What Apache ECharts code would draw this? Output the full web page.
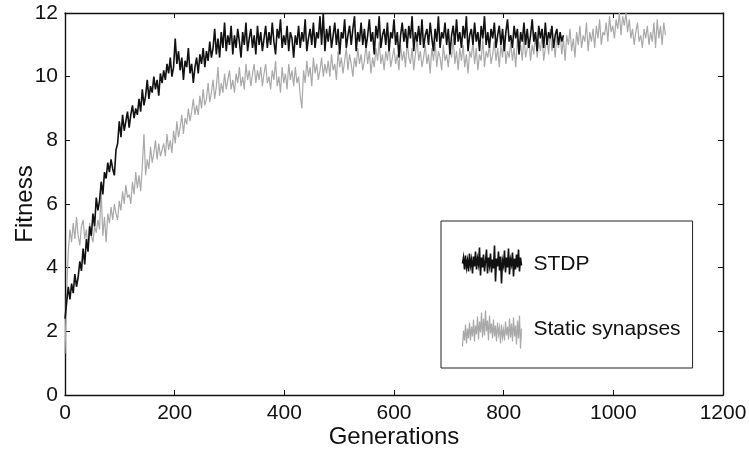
<!DOCTYPE html>
<html>
<head>
<meta charset="utf-8">
<script src="https://cdn.jsdelivr.net/npm/echarts@6/dist/echarts.min.js"></script>
<style>html,body{margin:0;padding:0;background:#fff;}#chart{width:749px;height:450px;}</style>
</head>
<body>
<div id="chart"></div>
<script>
// Generation step between samples
const GEN_STEP = 3;
const xTicks = [0, 200, 400, 600, 800, 1000, 1200];
const yTicks = [0, 2, 4, 6, 8, 10, 12];
const seriesNames = ['STDP', 'Static synapses'];

// STDP fitness, generations 0..909 (every 3)
const stdpFitness = [
  2.4,2.9,3.4,3.0,3.5,3.2,3.8,3.4,3.7,4.2,3.9,4.6,4.1,4.9,4.5,5.3,5.0,5.7,5.3,6.2,
  5.8,6.1,6.7,6.3,7.0,6.8,7.3,7.0,7.4,7.1,6.9,7.7,7.9,8.6,8.1,8.8,8.3,8.6,8.9,8.4,
  8.8,9.1,8.7,9.0,8.8,9.3,8.9,9.6,9.1,9.4,9.9,9.3,9.7,9.5,10.0,9.6,9.9,9.4,10.1,9.8,
  10.2,9.9,10.4,10.1,10.6,10.0,10.3,11.2,10.4,10.8,10.2,10.6,9.9,10.5,10.3,10.9,10.1,10.4,9.8,10.3,
  10.6,10.1,10.7,10.4,10.9,10.3,10.8,10.5,11.1,10.6,10.9,11.5,10.7,11.2,10.6,11.4,10.9,11.7,10.8,11.3,
  11.0,11.6,10.7,11.3,10.9,11.5,11.1,10.6,11.4,11.0,11.7,10.8,11.2,11.5,10.9,11.3,10.7,11.6,11.0,11.4,
  10.8,11.2,11.6,10.9,11.4,11.0,11.7,11.1,10.7,11.5,11.2,11.8,10.9,11.3,11.0,11.6,10.8,11.4,11.2,10.6,
  11.3,11.0,11.6,10.9,11.4,11.1,11.8,10.8,11.2,11.5,11.0,11.7,10.9,11.4,11.2,11.9,11.0,12.0,10.8,11.5,
  11.1,11.6,10.9,11.3,11.7,11.0,11.5,10.7,11.4,11.2,11.8,10.9,11.3,11.6,11.0,11.5,11.9,10.8,11.4,11.1,
  11.7,11.0,11.5,10.9,11.3,11.8,11.1,11.4,10.7,11.6,11.2,11.9,10.9,11.3,11.5,11.0,11.7,10.8,11.4,11.2,
  11.8,11.0,11.4,10.6,11.3,11.7,11.1,11.5,10.9,11.6,11.2,11.9,10.8,11.4,11.1,11.6,11.0,11.8,10.9,11.3,
  11.5,11.0,11.7,11.2,10.8,11.5,11.1,11.9,10.9,11.4,11.2,11.7,11.0,11.5,10.7,11.3,11.6,11.0,11.8,11.1,
  11.4,10.9,11.6,11.2,11.9,10.8,11.3,11.5,11.0,11.7,11.1,11.4,10.8,11.6,11.2,11.9,11.0,11.4,10.9,11.5,
  11.2,11.7,10.9,11.3,11.6,11.0,11.5,10.8,11.4,11.8,11.1,11.3,10.9,11.6,11.2,11.5,10.7,11.4,11.1,11.7,
  11.0,11.5,10.9,11.3,11.8,11.1,11.4,10.8,11.6,11.2,11.5,10.9,11.7,11.0,11.4,11.2,11.6,10.9,11.3,11.5,
  11.0,11.4,11.1,11.3
];

// Static synapses fitness, generations 0..1095 (every 3)
const staticFitness = [
  1.3,3.2,4.5,5.2,4.8,5.4,4.9,5.6,5.0,4.7,5.3,5.5,4.9,5.2,4.6,5.4,5.0,4.8,5.3,5.1,
  5.5,5.2,6.4,5.0,5.6,4.8,5.7,5.4,5.9,5.5,6.0,5.7,5.5,6.1,5.8,6.4,6.0,6.6,6.2,6.3,
  6.0,6.7,6.3,7.0,6.5,6.9,6.4,7.2,8.2,6.9,7.4,7.1,7.8,7.3,7.6,8.0,7.4,7.9,7.5,7.7,
  7.9,7.5,8.2,7.7,8.0,7.6,8.3,7.9,8.6,8.1,8.4,8.8,8.2,8.7,8.5,9.0,8.6,8.9,9.3,8.8,
  9.1,8.8,9.4,9.0,9.6,9.1,9.3,9.8,9.2,9.5,9.9,9.3,9.7,10.3,9.4,9.8,9.5,10.1,9.6,9.9,
  10.2,9.6,9.9,9.5,10.1,9.8,10.3,9.7,10.0,9.6,10.4,9.9,10.2,9.7,10.1,10.4,9.8,10.2,9.9,10.3,
  9.7,10.1,10.4,9.8,10.0,9.6,10.2,9.9,10.5,9.7,10.0,9.5,10.3,9.8,10.1,9.6,10.4,9.9,10.2,9.7,
  10.3,9.8,10.0,9.4,9.0,10.2,9.8,10.5,10.0,10.3,9.7,10.6,10.1,10.4,9.9,10.2,10.6,10.0,10.4,10.1,
  10.5,10.0,10.7,10.2,10.4,9.9,10.8,10.3,10.6,10.1,10.5,10.9,10.2,10.7,10.4,10.0,10.6,10.3,10.9,10.4,
  10.7,10.2,10.5,11.0,10.4,10.8,10.1,10.6,10.3,10.9,10.5,11.1,10.4,10.7,10.2,10.8,10.5,11.0,10.3,10.6,
  10.9,10.4,10.7,10.2,11.0,10.5,10.8,10.3,11.1,10.6,10.4,10.9,10.2,10.7,11.2,10.5,10.8,10.3,10.6,11.0,
  10.4,10.7,10.1,10.9,10.5,11.1,10.3,10.8,10.6,10.2,11.0,10.5,10.7,10.3,10.9,10.6,11.2,10.4,10.8,10.2,
  10.9,10.5,11.0,10.3,10.7,10.1,10.8,10.6,11.1,10.4,10.9,10.2,10.7,10.5,11.2,10.3,10.8,10.6,11.0,10.4,
  10.7,11.1,10.5,10.9,10.3,11.0,10.6,11.3,10.4,10.8,10.6,11.1,10.5,10.9,10.3,11.2,10.7,11.0,10.5,11.3,
  10.6,10.9,11.2,10.5,11.0,10.7,11.4,10.6,11.1,10.8,11.3,10.5,10.9,11.2,10.7,11.5,10.8,11.1,10.6,11.3,
  10.9,11.4,10.7,11.2,10.5,11.3,11.0,11.5,10.8,11.2,10.6,11.4,11.0,11.6,10.9,11.3,11.1,11.7,10.8,11.4,
  11.1,11.5,10.9,11.6,11.2,11.8,11.0,11.4,11.3,11.7,11.1,11.9,11.4,11.6,11.2,11.8,11.5,12.0,11.3,11.9,
  11.6,12.0,11.4,11.8,11.2,11.5,11.0,11.4,11.7,11.1,11.3,10.9,11.5,11.2,11.6,11.0,11.4,11.1,11.7,10.9,
  11.8,11.2,11.6,11.0,11.7,11.3
];

const toPairs = arr => arr.map((v, i) => [i * GEN_STEP, v]);

const FONT = '"Liberation Sans", Arial, Helvetica, sans-serif';
const stdpIcon = 'path://M0,18 L1,12 L2,24 L3,10 L4,22 L5,15 L6,26 L7,8 L8,20 L9,14 L10,28 L11,11 L12,21 L13,6 L14,24 L15,13 L16,19 L17,2 L18,30 L19,12 L20,22 L21,9 L22,26 L23,16 L24,4 L25,28 L26,12 L27,20 L28,8 L29,27 L30,14 L31,23 L32,0 L33,36 L34,13 L35,21 L36,6 L37,25 L38,11 L39,38 L40,15 L41,20 L42,5 L43,27 L44,12 L45,22 L46,3 L47,29 L48,14 L49,19 L50,7 L51,31 L52,13 L53,24 L54,9 L55,22 L56,4 L57,26 L58,12 L59,20';
const staticIcon = 'path://M0,36 L1,20 L2,30 L3,14 L4,33 L5,18 L6,28 L7,12 L8,30 L9,16 L10,26 L11,9 L12,31 L13,15 L14,24 L15,6 L16,29 L17,11 L18,22 L19,2 L20,27 L21,8 L22,25 L23,0 L24,21 L25,10 L26,30 L27,5 L28,23 L29,13 L30,28 L31,9 L32,26 L33,15 L34,31 L35,12 L36,24 L37,17 L38,33 L39,14 L40,27 L41,19 L42,30 L43,11 L44,25 L45,16 L46,29 L47,8 L48,27 L49,13 L50,31 L51,7 L52,26 L53,15 L54,34 L55,10 L56,28 L57,5 L58,38 L59,18';

const axisLineStyle = { color: '#111', width: 1.4 };
const tickStyle = { show: true, inside: true, length: 5, lineStyle: { color: '#111', width: 1 } };
const labelStyle = { color: '#111', fontSize: 21, fontFamily: FONT, formatter: v => String(v) };

const chart = echarts.init(document.getElementById('chart'), null, { renderer: 'canvas' });
chart.setOption({
  animation: false,
  backgroundColor: '#fff',
  grid: { left: 65, right: 26, top: 13, bottom: 55, containLabel: false, outerBoundsMode: 'none' },
  legend: {
    orient: 'vertical',
    left: 441, top: 221,
    padding: [22, 12, 17, 19],
    itemGap: 22,
    itemWidth: 59, itemHeight: 38,
    borderColor: '#222', borderWidth: 1,
    backgroundColor: '#fff',
    selectedMode: false,
    textStyle: { color: '#111', fontSize: 21, fontFamily: FONT, padding: [0, 0, 0, 7] },
    data: [
      { name: seriesNames[0], icon: stdpIcon, itemStyle: { color: 'none', borderColor: '#111', borderWidth: 1.6 } },
      { name: seriesNames[1], icon: staticIcon, itemStyle: { color: 'none', borderColor: '#a9a9a9', borderWidth: 1.2 } }
    ]
  },
  xAxis: [
    {
      type: 'value', min: xTicks[0], max: xTicks[xTicks.length - 1], interval: 200, position: 'bottom',
      axisLine: { show: true, lineStyle: axisLineStyle, onZero: false },
      axisTick: tickStyle,
      axisLabel: Object.assign({ margin: 8 }, labelStyle),
      splitLine: { show: false },
      name: 'Generations', nameLocation: 'middle', nameGap: 30, nameMoveOverlap: false,
      nameTextStyle: { color: '#111', fontSize: 24, fontFamily: FONT }
    },
    {
      type: 'value', min: xTicks[0], max: xTicks[xTicks.length - 1], interval: 200, position: 'top',
      axisLine: { show: true, lineStyle: axisLineStyle, onZero: false },
      axisTick: tickStyle, axisLabel: { show: false }, splitLine: { show: false }
    }
  ],
  yAxis: [
    {
      type: 'value', min: yTicks[0], max: yTicks[yTicks.length - 1], interval: 2, position: 'left',
      axisLine: { show: true, lineStyle: axisLineStyle, onZero: false },
      axisTick: tickStyle,
      axisLabel: Object.assign({ margin: 7 }, labelStyle),
      splitLine: { show: false },
      name: 'Fitness', nameLocation: 'middle', nameGap: 28, nameMoveOverlap: false,
      nameTextStyle: { color: '#111', fontSize: 24, fontFamily: FONT }
    },
    {
      type: 'value', min: yTicks[0], max: yTicks[yTicks.length - 1], interval: 2, position: 'right',
      axisLine: { show: true, lineStyle: axisLineStyle, onZero: false },
      axisTick: tickStyle, axisLabel: { show: false }, splitLine: { show: false }
    }
  ],
  series: [
    {
      name: seriesNames[0], type: 'line', xAxisIndex: 0, yAxisIndex: 0,
      data: toPairs(stdpFitness), showSymbol: false, symbol: 'none', silent: true,
      lineStyle: { color: '#111', width: 1.6 }, itemStyle: { color: '#111' }, z: 2
    },
    {
      name: seriesNames[1], type: 'line', xAxisIndex: 0, yAxisIndex: 0,
      data: toPairs(staticFitness), showSymbol: false, symbol: 'none', silent: true,
      lineStyle: { color: '#a9a9a9', width: 1.2 }, itemStyle: { color: '#a9a9a9' }, z: 1
    }
  ]
});
</script>
</body>
</html>
